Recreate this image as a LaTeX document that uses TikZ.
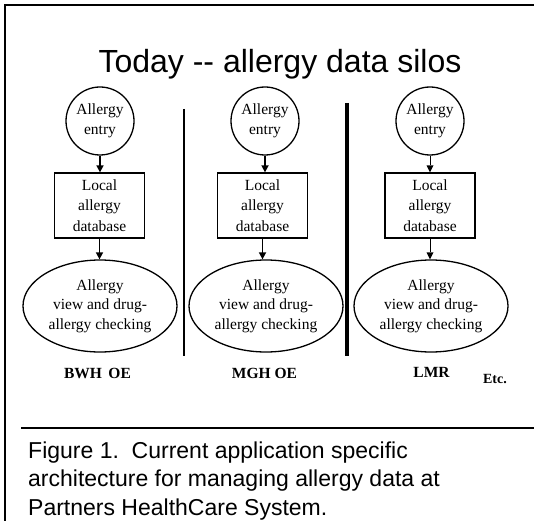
\documentclass[tikz,border=0pt]{standalone}
\usepackage{fontspec}
\setmainfont{Liberation Serif}
\newfontfamily\arialfont{Liberation Sans}
\usetikzlibrary{arrows.meta,shapes.geometric}
\tikzset{
  frameline/.style={line width=2pt},
  entrycircle/.style={draw, circle, line width=1.3pt, minimum size=68pt, inner sep=0pt, align=center, font=\fontsize{15.5}{20.5}\selectfont},
  dbbox/.style={draw, rectangle, line width=1.3pt, minimum width=90pt, minimum height=65pt, inner sep=0pt, align=center, font=\fontsize{15.5}{20.5}\selectfont},
  viewellipse/.style={draw, ellipse, line width=1.3pt, minimum width=154pt, minimum height=92pt, inner sep=0pt, align=center, font=\fontsize{15.5}{19.5}\selectfont},
  flow/.style={line width=1.6pt, -{Triangle[width=7pt,length=7pt]}},
  flowthin/.style={line width=0.2pt, -{Triangle[width=7pt,length=7pt,line width=0pt]}},
  sitelabel/.style={font=\fontsize{15.5}{18}\selectfont\bfseries, anchor=base},
}
\begin{document}
\begin{tikzpicture}[x=1pt,y=-1pt]
\useasboundingbox (0,0) rectangle (534,521);
% frame
\coordinate (ftl) at (5,5);
\coordinate (ftr) at (534,5);
\coordinate (fbl) at (5,521);
\draw[frameline] (ftr) -- (ftl) -- (fbl);
% title
\node[font=\arialfont\fontsize{32}{38}\selectfont, anchor=base, inner sep=0pt] (title) at (280,73) {Today -- allergy data silos};
% column 1
\node[entrycircle] (c1) at (100,121) {Allergy\\entry};
\node[dbbox] (r1) at (99.5,205.5) {Local\\allergy\\database};
\node[viewellipse] (e1) at (100,306) {Allergy\\view and drug-\\allergy checking};
% column 2
\node[entrycircle] (c2) at (265,121) {Allergy\\entry};
\node[dbbox] (r2) at (262.5,205.5) {Local\\allergy\\database};
\node[viewellipse] (e2) at (266,306) {Allergy\\view and drug-\\allergy checking};
% column 3
\node[entrycircle] (c3) at (430,121) {Allergy\\entry};
\node[dbbox] (r3) at (430,205.5) {Local\\allergy\\database};
\node[viewellipse] (e3) at (431,306) {Allergy\\view and drug-\\allergy checking};
% arrows
\draw[flow] (c1.south) -- (c1.south |- r1.north);
\draw[flow] (r1.south) -- (r1.south |- e1.north);
\draw[flow] (c2.south) -- (c2.south |- r2.north);
\draw[flow] (r2.south) -- (r2.south |- e2.north);
\draw[flowthin] (c3.south) -- (c3.south |- r3.north);
\draw[flowthin] (r3.south) -- (r3.south |- e3.north);
% separators
\coordinate (s1t) at (184,109);
\coordinate (s1b) at (184,356);
\coordinate (s2t) at (347,103);
\coordinate (s2b) at (347,356);
\draw[line width=1.3pt] (s1t) -- (s1b);
\draw[line width=3.5pt] (s2t) -- (s2b);
% labels
\node[sitelabel] (l1) at (97.5,378) {BWH\ \,OE};
\node[sitelabel] (l2) at (264.5,378) {MGH OE};
\node[sitelabel] (l3) at (431.5,377) {LMR};
\node[font=\fontsize{14}{16}\selectfont\bfseries, anchor=base] (l4) at (495,383) {Etc.};
% caption
\coordinate (cl) at (21,428);
\coordinate (cr) at (534,428);
\draw[frameline] (cl) -- (cr);
\node[font=\arialfont\fontsize{23}{28.7}\selectfont, anchor=base west, align=left, inner sep=0pt] (cap) at (28,515.5) {Figure 1.\ \ Current application specific\\architecture for managing allergy data at\\Partners HealthCare System.};
\end{tikzpicture}
\end{document}
